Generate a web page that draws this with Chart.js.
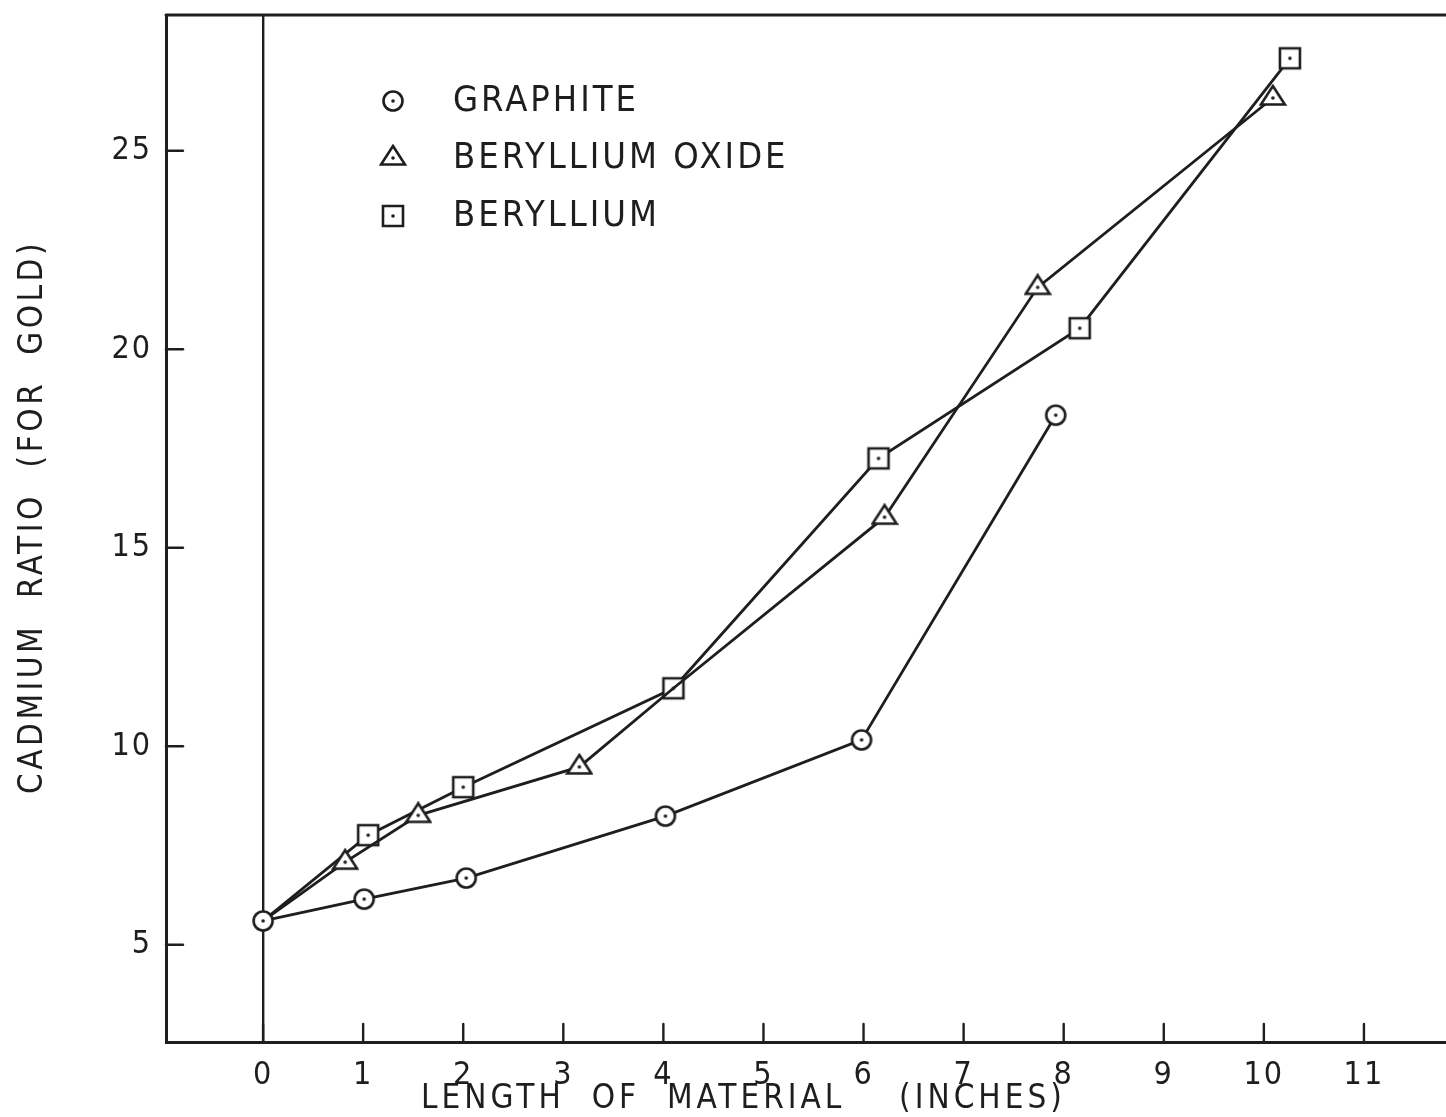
<!DOCTYPE html>
<html>
<head>
<meta charset="utf-8">
<title>Cadmium ratio vs length of material</title>
<script src="https://cdn.jsdelivr.net/npm/chart.js@4.4.1/dist/chart.umd.min.js"></script>
<style>
  html, body { margin: 0; padding: 0; background: #fff; }
  #wrap { width: 1446px; height: 1117px; }
</style>
</head>
<body>
<div id="wrap"><canvas id="chart" width="1446" height="1117"></canvas></div>
<script>
// measured points, x = length (inches), y = cadmium ratio
const graphiteX = [0, 1.01, 2.03, 4.02, 5.98, 7.92];
const graphiteY = [5.6, 6.15, 6.68, 8.24, 10.16, 18.34];

const beoX = [0, 0.82, 1.55, 3.16, 4.1, 6.21, 7.74, 10.09];
const beoY = [5.6, 7.08, 8.26, 9.48, 11.46, 15.77, 21.56, 26.33];

const berylliumX = [0, 1.05, 2.0, 4.1, 6.15, 8.16, 10.26];
const berylliumY = [5.6, 7.76, 8.97, 11.46, 17.25, 20.53, 27.33];

const seriesNames = ["GRAPHITE", "BERYLLIUM OXIDE", "BERYLLIUM"];
const xTicks = [0, 1, 2, 3, 4, 5, 6, 7, 8, 9, 10, 11];
const yTicks = [5, 10, 15, 20, 25];

const ink = "#1e1e1e";
const handFont = '"Liberation Sans Narrow", "DejaVu Sans Condensed", sans-serif';

function toPoints(xs, ys) {
  return xs.map((x, i) => ({ x: x, y: ys[i] }));
}

// hollow markers with a dot in the middle
function makeMarker(kind) {
  const c = document.createElement("canvas");
  c.width = 28;
  c.height = 28;
  const g = c.getContext("2d");
  g.strokeStyle = ink;
  g.fillStyle = "#fff";
  g.lineWidth = 2.6;
  g.beginPath();
  if (kind === "circle") {
    g.arc(14, 14, 9.5, 0, Math.PI * 2);
  } else if (kind === "square") {
    g.rect(4, 4, 20, 20);
  } else {
    g.moveTo(14, 2);
    g.lineTo(26, 20.5);
    g.lineTo(2, 20.5);
    g.closePath();
  }
  g.fill();
  g.stroke();
  g.fillStyle = ink;
  g.beginPath();
  g.arc(14, 14, 1.8, 0, Math.PI * 2);
  g.fill();
  return c;
}

const markers = [makeMarker("circle"), makeMarker("triangle"), makeMarker("square")];

// paper background, frame top, inward ticks, legend and axis titles
const paperPlugin = {
  id: "paper",
  beforeDraw(chart) {
    const ctx = chart.ctx;
    ctx.save();
    ctx.fillStyle = "#fff";
    ctx.fillRect(0, 0, chart.width, chart.height);
    ctx.restore();
    ctx.letterSpacing = "2px";
  },
  afterDraw(chart) {
    const ctx = chart.ctx;
    const a = chart.chartArea;
    const xs = chart.scales.x;
    const ys = chart.scales.y;
    ctx.save();
    ctx.strokeStyle = ink;
    ctx.lineCap = "round";

    // top edge of the frame
    ctx.lineWidth = 3;
    ctx.beginPath();
    ctx.moveTo(a.left, a.top);
    ctx.lineTo(a.right, a.top);
    ctx.stroke();

    // ticks pointing into the plot
    ctx.lineWidth = 2.4;
    xTicks.forEach(v => {
      const px = xs.getPixelForValue(v);
      ctx.beginPath();
      ctx.moveTo(px, a.bottom);
      ctx.lineTo(px, a.bottom - 18);
      ctx.stroke();
    });
    yTicks.forEach(v => {
      const py = ys.getPixelForValue(v);
      ctx.beginPath();
      ctx.moveTo(a.left, py);
      ctx.lineTo(a.left + 17, py);
      ctx.stroke();
    });

    // legend
    ctx.fillStyle = ink;
    ctx.font = "36px " + handFont;
    ctx.letterSpacing = "3px";
    ctx.textBaseline = "middle";
    ctx.textAlign = "left";
    const rowY = [86, 143, 201];
    seriesNames.forEach((name, i) => {
      const m = markers[i];
      ctx.drawImage(m, a.left + 227 - m.width / 2, a.top + rowY[i] - m.height / 2);
      ctx.fillText(name, a.left + 287, a.top + rowY[i] + 1);
    });

    // axis titles
    ctx.font = "33px " + handFont;
    ctx.letterSpacing = "4px";
    ctx.textAlign = "center";
    ctx.fillText("LENGTH  OF  MATERIAL    (INCHES)", xs.getPixelForValue(4.8), 1099);
    ctx.letterSpacing = "3.5px";
    ctx.translate(33, 517);
    ctx.rotate(-Math.PI / 2);
    ctx.fillText("CADMIUM  RATIO  (FOR  GOLD)", 0, 0);
    ctx.restore();
  }
};

// keep tick labels from pushing the plot edges inward
function noPadding(scale) {
  scale.paddingTop = 0;
  scale.paddingBottom = 0;
  scale.paddingLeft = 0;
  scale.paddingRight = 0;
}

function lineSet(i, xs, ys, hidden) {
  return {
    label: seriesNames[i],
    data: toPoints(xs, ys),
    borderColor: ink,
    borderWidth: 2.8,
    tension: 0,
    fill: false,
    pointStyle: markers[i],
    pointRadius: xs.map((_, k) => (hidden.includes(k) ? 0 : 10)),
    pointHoverRadius: 10
  };
}

new Chart(document.getElementById("chart"), {
  type: "line",
  data: {
    datasets: [
      lineSet(0, graphiteX, graphiteY, []),
      lineSet(1, beoX, beoY, [0, 4]),
      lineSet(2, berylliumX, berylliumY, [0])
    ]
  },
  options: {
    responsive: false,
    animation: false,
    layout: { autoPadding: false, padding: { top: 15, right: 0, left: 0, bottom: 0 } },
    plugins: {
      legend: { display: false },
      tooltip: { enabled: false }
    },
    scales: {
      x: {
        type: "linear",
        min: -0.97,
        max: 11.82,
        afterFit(scale) { scale.height = 75; noPadding(scale); },
        afterBuildTicks(scale) { scale.ticks = xTicks.map(v => ({ value: v })); },
        border: { display: true, color: ink, width: 3 },
        grid: {
          drawTicks: false,
          color: c => (c.tick && c.tick.value === 0 ? ink : "rgba(0,0,0,0)"),
          lineWidth: 2.4
        },
        ticks: {
          color: ink,
          padding: 14,
          maxRotation: 0,
          autoSkip: false,
          font: { family: handFont, size: 32 }
        }
      },
      y: {
        type: "linear",
        min: 2.55,
        max: 28.42,
        afterFit(scale) { scale.width = 166; noPadding(scale); },
        afterBuildTicks(scale) { scale.ticks = yTicks.map(v => ({ value: v })); },
        border: { display: true, color: ink, width: 3 },
        grid: { display: false, drawTicks: false },
        ticks: {
          color: ink,
          padding: 14,
          font: { family: handFont, size: 32 }
        }
      }
    }
  },
  plugins: [paperPlugin]
});
</script>
</body>
</html>
